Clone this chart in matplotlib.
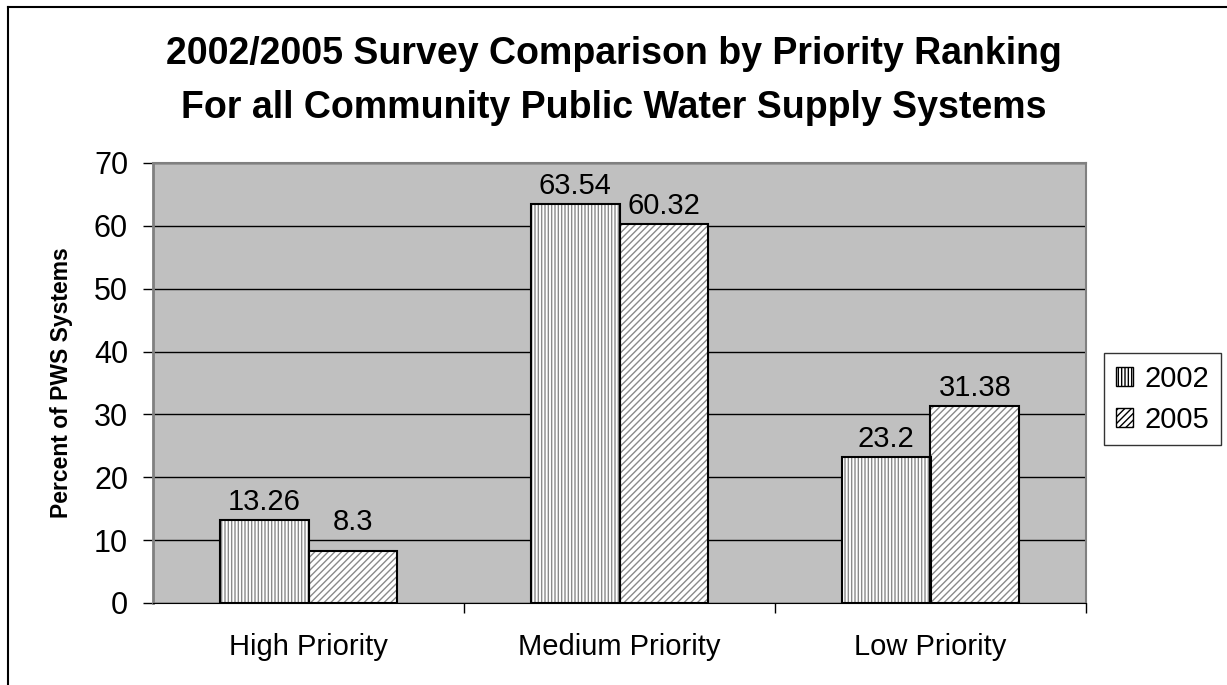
import matplotlib
matplotlib.use("Agg")
import matplotlib.pyplot as plt
import numpy as np
from matplotlib.patches import Patch
from matplotlib.lines import Line2D

plt.rcParams["font.family"] = ["Liberation Sans", "DejaVu Sans"]
plt.rcParams["hatch.linewidth"] = 1.0

categories = ["High Priority", "Medium Priority", "Low Priority"]
series_names = ["2002", "2005"]
values_2002 = [13.26, 63.54, 23.2]
values_2005 = [8.3, 60.32, 31.38]
value_labels_2002 = ["13.26", "63.54", "23.2"]
value_labels_2005 = ["8.3", "60.32", "31.38"]

W, H = 1227, 685
fig = plt.figure(figsize=(W / 100, H / 100), dpi=100)
fig.patch.set_facecolor("white")
ax = fig.add_axes([153 / W, 1 - 603 / H, (1086 - 153) / W, (603 - 163) / H])
ax.set_facecolor("#C0C0C0")

x = np.arange(len(categories))
w = 0.286
hatches = ["|||||", "/////"]
# label offsets in points (the 8.3 label sits higher in the original)
offsets = [[7, 7, 7], [15, 7, 7]]
for i, (vals, labs) in enumerate([(values_2002, value_labels_2002),
                                  (values_2005, value_labels_2005)]):
    pos = x + (i - 0.5) * w
    ax.bar(pos, vals, w, color="white", edgecolor="#8a8a8a", hatch=hatches[i],
           linewidth=0, zorder=3)
    ax.bar(pos, vals, w, fill=False, edgecolor="black", linewidth=1.5, zorder=4)
    for p, v, t, off in zip(pos, vals, labs, offsets[i]):
        ax.annotate(t, (p, v), xytext=(0, off), textcoords="offset points",
                    ha="center", va="baseline", fontsize=21, zorder=5)

ax.set_xlim(-0.5, 2.5)
ax.set_ylim(0, 70)
ax.set_yticks(range(0, 71, 10))
ax.yaxis.grid(True, color="black", linewidth=1.0, zorder=1)
ax.set_axisbelow(True)
ax.set_xticks(x)
ax.set_xticklabels(categories, fontsize=21)
ax.tick_params(axis="x", length=0, pad=21.5)
ax.set_xticks([0.5, 1.5, 2.5], minor=True)
ax.tick_params(axis="x", which="minor", length=7, width=1, direction="out")
ax.tick_params(axis="y", labelsize=22, length=7, width=1, direction="out", pad=11)

for side in ["top", "right"]:
    ax.spines[side].set_color("#808080")
    ax.spines[side].set_linewidth(1.5)
ax.spines["left"].set_color("#808080")
ax.spines["left"].set_linewidth(2)
ax.spines["bottom"].set_color("black")

ax.set_ylabel("Percent of PWS Systems", fontsize=16.5, fontweight="bold")
ax.yaxis.set_label_coords((73 - 153) / (1086 - 153), 0.5)

fig.text(0.5, 1 - 64 / H, "2002/2005 Survey Comparison by Priority Ranking",
         ha="center", va="baseline", fontsize=27, fontweight="bold")
fig.text(0.5, 1 - 118 / H, "For all Community Public Water Supply Systems",
         ha="center", va="baseline", fontsize=27, fontweight="bold")

handles = [
    Patch(facecolor="white", edgecolor="black", hatch="|||||", label=series_names[0]),
    Patch(facecolor="white", edgecolor="black", hatch="/////", label=series_names[1]),
]
leg = fig.legend(handles=handles, loc="upper left",
                 bbox_to_anchor=(1104 / W, 1 - 353 / H), borderaxespad=0,
                 fontsize=21, frameon=True, fancybox=False, edgecolor="black",
                 handlelength=0.6, handleheight=0.6, handletextpad=0.4,
                 borderpad=0.4, labelspacing=0.45)
leg.get_frame().set_linewidth(1.0)

# outer border lines
fig.add_artist(Line2D([8 / W, 8 / W], [0, 1 - 7 / H], color="black", linewidth=1.5))
fig.add_artist(Line2D([8 / W, 1], [1 - 7 / H, 1 - 7 / H], color="black", linewidth=1.5))

fig.savefig("out.png", dpi=100)
